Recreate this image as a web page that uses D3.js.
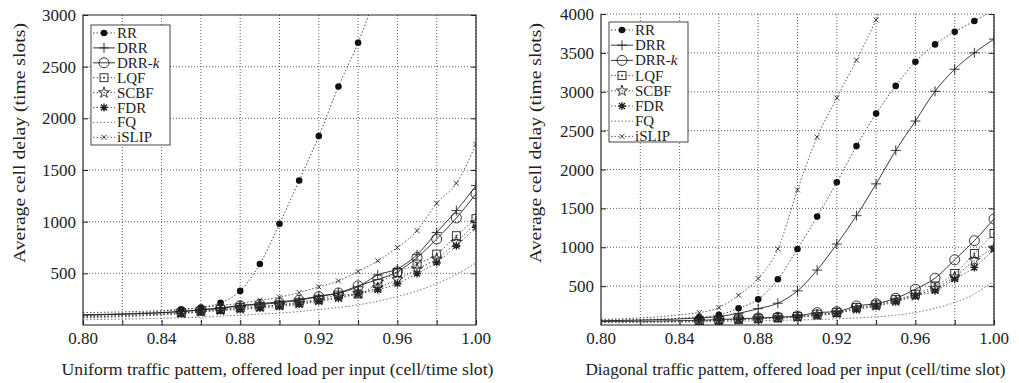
<!DOCTYPE html>
<html>
<head>
<meta charset="utf-8">
<script src="https://cdn.jsdelivr.net/npm/d3@7"></script>
<style>
  body { margin: 0; background: #fff; }
  svg { display: block; font-family: "Liberation Serif", "DejaVu Serif", serif; }
</style>
</head>
<body>
<svg id="chart" width="1019" height="383"></svg>
<script>
// offered load points (lines start at 0.80, markers from 0.85 on)
const loads = [0.80, 0.85, 0.86, 0.87, 0.88, 0.89, 0.90, 0.91, 0.92, 0.93, 0.94, 0.95, 0.96, 0.97, 0.98, 0.99, 1.00];
const seriesNames = ['RR', 'DRR', 'DRR-k', 'LQF', 'SCBF', 'FDR', 'FQ', 'iSLIP'];
const xTicks = [0.80, 0.84, 0.88, 0.92, 0.96, 1.00];

// uniform traffic
const uniRR    = [90, 150, 170, 216, 330, 590, 980, 1398, 1828, 2308, 2731, 3250, null, null, null, null, null];
const uniDRR   = [100, 130, 150, 165, 190, 205, 225, 245, 280, 310, 370, 485, 543, 680, 896, 1107, 1350];
const uniDRRk  = [95, 130, 145, 160, 185, 200, 215, 240, 275, 310, 379, 440, 515, 653, 832, 1036, 1269];
const uniLQF   = [80, 120, 135, 150, 170, 180, 195, 220, 250, 290, 300, 400, 508, 589, 686, 864, 1029];
const uniSCBF  = [75, 115, 130, 145, 160, 175, 190, 210, 240, 270, 305, 360, 440, 540, 640, 800, 990];
const uniFDR   = [70, 110, 125, 140, 150, 165, 180, 200, 230, 260, 300, 340, 401, 498, 605, 767, 945];
const uniFQ    = [50, 70, 75, 85, 95, 105, 115, 130, 150, 170, 195, 230, 275, 330, 400, 490, 600];
const uniISLIP = [120, 150, 170, 190, 210, 240, 270, 314, 369, 427, 518, 621, 750, 913, 1178, 1372, 1748];
const uniYTicks = [500, 1000, 1500, 2000, 2500, 3000];

// diagonal traffic
const diaRR    = [60, 100, 130, 215, 331, 589, 977, 1394, 1836, 2301, 2719, 3075, 3385, 3609, 3772, 3910, 4050];
const diaDRR   = [55, 90, 110, 150, 210, 280, 439, 706, 1041, 1406, 1815, 2245, 2623, 3006, 3290, 3501, 3677];
const diaDRRk  = [45, 60, 70, 80, 90, 100, 116, 159, 172, 245, 275, 344, 460, 602, 839, 1084, 1364];
const diaLQF   = [40, 55, 65, 75, 85, 95, 110, 140, 160, 225, 260, 330, 396, 503, 662, 920, 1178];
const diaSCBF  = [38, 52, 62, 72, 82, 92, 105, 130, 155, 210, 250, 310, 380, 470, 620, 830, 990];
const diaFDR   = [35, 50, 60, 70, 80, 90, 100, 120, 150, 200, 240, 300, 374, 439, 590, 740, 980];
const diaFQ    = [30, 40, 45, 50, 55, 60, 65, 70, 80, 90, 105, 125, 160, 215, 290, 400, 570];
const diaISLIP = [70, 160, 224, 383, 598, 977, 1738, 2417, 2920, 3406, 3923, 4500, null, null, null, null, null];
const diaYTicks = [500, 1000, 1500, 2000, 2500, 3000, 3500, 4000];

const svg = d3.select('#chart');

// line style + marker per series
const styles = {
  'RR':    { dash: '1.5,2', color: '#333', mark: 'dot' },
  'DRR':   { dash: null,    color: '#222', mark: 'plus' },
  'DRR-k': { dash: null,    color: '#222', mark: 'circle' },
  'LQF':   { dash: '1.5,2', color: '#444', mark: 'square' },
  'SCBF':  { dash: '1.5,2', color: '#444', mark: 'star' },
  'FDR':   { dash: '1.5,2', color: '#444', mark: 'asterisk' },
  'FQ':    { dash: '1.5,2', color: '#666', mark: null },
  'iSLIP': { dash: '1.5,2', color: '#444', mark: 'cross' }
};

function drawMark(g, type, x, y) {
  const m = g.append('g').attr('transform', `translate(${x},${y})`)
    .attr('fill', 'none').attr('stroke', '#222').attr('stroke-width', 0.9);
  if (type === 'dot') {
    m.append('circle').attr('r', 3.3).attr('fill', '#111').attr('stroke', 'none');
  } else if (type === 'plus') {
    m.append('path').attr('d', 'M-5,0H5M0,-5V5');
  } else if (type === 'circle') {
    m.append('circle').attr('r', 5);
  } else if (type === 'square') {
    m.append('rect').attr('x', -4).attr('y', -4).attr('width', 8).attr('height', 8);
    m.append('rect').attr('x', -0.8).attr('y', -0.8).attr('width', 1.6).attr('height', 1.6).attr('fill', '#222').attr('stroke', 'none');
  } else if (type === 'star') {
    m.append('path').attr('d', d3.symbol(d3.symbolStar, 38)());
  } else if (type === 'asterisk') {
    m.append('path').attr('d', 'M-4,0H4M0,-4V4M-3,-3L3,3M-3,3L3,-3').attr('stroke-width', 1.3);
  } else if (type === 'cross') {
    m.append('path').attr('d', 'M-2.5,-2.5L2.5,2.5M-2.5,2.5L2.5,-2.5');
  }
}

function panel(cfg) {
  const { left, right, top, bottom, yMax, yTicks, series, xTitle, xTitleLen, yTitleX, legend, id, dottedTop } = cfg;
  const x = d3.scaleLinear().domain([0.80, 1.00]).range([left, right]);
  const y = d3.scaleLinear().domain([0, yMax]).range([bottom, top]);
  const g = svg.append('g');

  g.append('clipPath').attr('id', id).append('rect')
    .attr('x', left).attr('y', top).attr('width', right - left).attr('height', bottom - top);

  // grid
  const xGrid = d3.range(0.82, 1.0, 0.02);
  g.selectAll('.vg').data(xGrid).join('line')
    .attr('x1', d => x(d)).attr('x2', d => x(d)).attr('y1', top).attr('y2', bottom)
    .attr('stroke', '#333').attr('stroke-width', 0.8).attr('stroke-dasharray', '1,2');
  g.selectAll('.hg').data(yTicks.filter(v => v < yMax || dottedTop)).join('line')
    .attr('x1', left).attr('x2', right).attr('y1', d => y(d)).attr('y2', d => y(d))
    .attr('stroke', '#333').attr('stroke-width', 0.8).attr('stroke-dasharray', '1,2');

  // axes (ticks inside)
  const xAxis = d3.axisTop(x).tickValues(d3.range(0.80, 1.001, 0.02)).tickSize(5).tickFormat('');
  g.append('g').attr('transform', `translate(0,${bottom})`).call(xAxis)
    .call(a => a.select('.domain').remove())
    .selectAll('line').attr('stroke', '#222');
  g.append('g').attr('transform', `translate(${left},0)`)
    .call(d3.axisRight(y).tickValues(yTicks).tickSize(5).tickFormat(''))
    .call(a => a.select('.domain').remove())
    .selectAll('line').attr('stroke', '#222');
  g.append('g').attr('transform', `translate(${right},0)`)
    .call(d3.axisLeft(y).tickValues(yTicks).tickSize(5).tickFormat(''))
    .call(a => a.select('.domain').remove())
    .selectAll('line').attr('stroke', '#222');

  // frame
  g.append('path')
    .attr('d', dottedTop
      ? `M${left},${top}V${bottom}H${right}V${top}`
      : `M${left},${top}V${bottom}H${right}V${top}Z`)
    .attr('fill', 'none').attr('stroke', '#222').attr('stroke-width', 1.2);

  // tick labels
  g.selectAll('.xl').data(xTicks).join('text')
    .attr('x', d => x(d)).attr('y', bottom + 19)
    .attr('text-anchor', 'middle').attr('font-size', 17).attr('fill', '#222')
    .text(d => d.toFixed(2));
  g.selectAll('.yl').data(yTicks).join('text')
    .attr('x', left - 7).attr('y', d => y(d) + 6)
    .attr('text-anchor', 'end').attr('font-size', 17).attr('fill', '#222')
    .text(d => d);

  // titles
  g.append('text').attr('x', (left + right) / 2 - 2).attr('y', bottom + 50)
    .attr('text-anchor', 'middle').attr('font-size', 16).attr('fill', '#222')
    .attr('textLength', xTitleLen).attr('lengthAdjust', 'spacingAndGlyphs')
    .text(xTitle);
  g.append('text').attr('transform', `translate(${yTitleX},143) rotate(-90)`)
    .attr('text-anchor', 'middle').attr('font-size', 17).attr('fill', '#222')
    .attr('textLength', 240).attr('lengthAdjust', 'spacingAndGlyphs')
    .text('Average cell delay (time slots)');

  // series
  const line = d3.line()
    .defined(d => d[1] != null)
    .x(d => x(d[0])).y(d => y(d[1]))
    .curve(d3.curveMonotoneX);
  const plot = g.append('g').attr('clip-path', `url(#${id})`);
  seriesNames.forEach((name, i) => {
    const st = styles[name];
    const pts = loads.map((l, j) => [l, series[i][j]]);
    plot.append('path').datum(pts).attr('d', line)
      .attr('fill', 'none').attr('stroke', st.color).attr('stroke-width', 0.9)
      .attr('stroke-dasharray', st.dash);
    if (st.mark) {
      pts.filter(p => p[0] >= 0.845 && p[1] != null && p[1] <= yMax).forEach(p => drawMark(plot, st.mark, x(p[0]), y(p[1])));
    }
  });

  // legend
  const lg = g.append('g');
  lg.append('rect').attr('x', legend.x).attr('y', legend.y).attr('width', 79).attr('height', 120)
    .attr('fill', '#fff').attr('stroke', '#333').attr('stroke-width', 0.9);
  seriesNames.forEach((name, i) => {
    const st = styles[name];
    const cy = legend.y + 8 + i * legend.step;
    lg.append('line').attr('x1', legend.x + 2).attr('x2', legend.x + 24).attr('y1', cy).attr('y2', cy)
      .attr('stroke', st.color).attr('stroke-width', 0.9).attr('stroke-dasharray', st.dash);
    if (st.mark) drawMark(lg, st.mark, legend.x + 13, cy);
    const t = lg.append('text').attr('x', legend.x + 26).attr('y', cy + 5)
      .attr('font-size', 15).attr('fill', '#222');
    if (name === 'DRR-k') {
      t.append('tspan').text('DRR-');
      t.append('tspan').attr('font-style', 'italic').text('k');
    } else {
      t.text(name);
    }
  });
}

panel({
  id: 'clipU', left: 83, right: 476, top: 15, bottom: 325, yMax: 3000, yTicks: uniYTicks,
  series: [uniRR, uniDRR, uniDRRk, uniLQF, uniSCBF, uniFDR, uniFQ, uniISLIP],
  xTitle: 'Uniform traffic pattem, offered load per input (cell/time slot)', xTitleLen: 432,
  yTitleX: 25, legend: { x: 91, y: 25, step: 14.9 }, dottedTop: false
});

panel({
  id: 'clipD', left: 601, right: 994, top: 14, bottom: 325, yMax: 4000, yTicks: diaYTicks,
  series: [diaRR, diaDRR, diaDRRk, diaLQF, diaSCBF, diaFDR, diaFQ, diaISLIP],
  xTitle: 'Diagonal traffic pattem, offered load per input (cell/time slot)', xTitleLen: 420,
  yTitleX: 541, legend: { x: 609, y: 22, step: 15.2 }, dottedTop: true
});
</script>
</body>
</html>
